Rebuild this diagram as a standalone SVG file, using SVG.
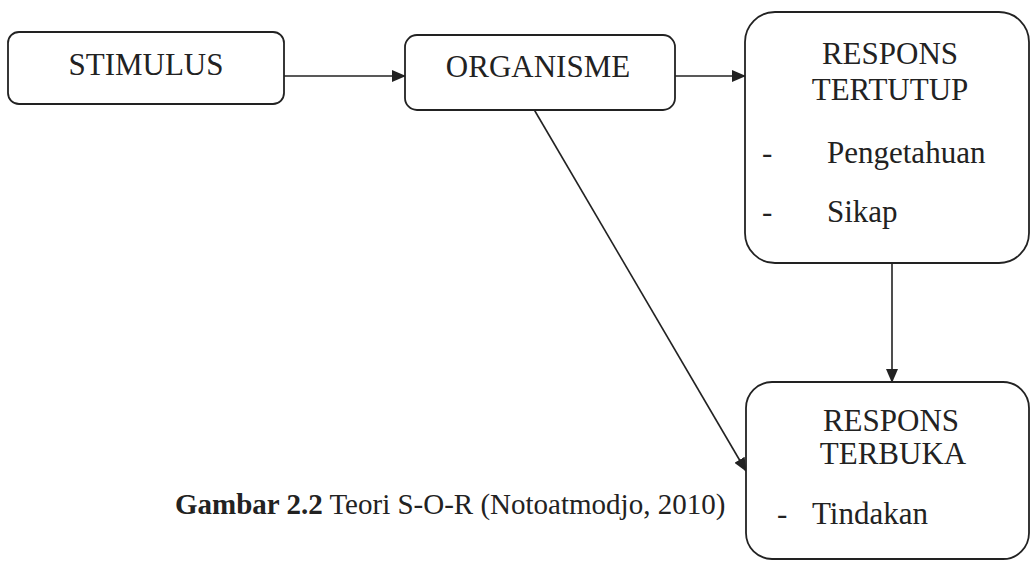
<svg xmlns="http://www.w3.org/2000/svg" width="1031" height="561" viewBox="0 0 1031 561">
<style>
.box{fill:#fff;stroke:#222;stroke-width:1.8}
.t{font-size:31px;fill:#222}
.c{font-size:29px;fill:#222}
.ln{fill:none;stroke:#222;stroke-width:1.6}
</style>
<defs>
<marker id="ah" markerUnits="userSpaceOnUse" markerWidth="14" markerHeight="12" refX="13" refY="6" orient="auto">
<path d="M0,0 L14,6 L0,12 z" fill="#222"/>
</marker>
</defs>
<rect width="1031" height="561" fill="#fff"/>
<g id="connectors">
<line class="ln" x1="284" y1="76" x2="405" y2="76" marker-end="url(#ah)"/>
<line class="ln" x1="675" y1="76" x2="745" y2="76" marker-end="url(#ah)"/>
<line class="ln" x1="892" y1="263" x2="892" y2="382" marker-end="url(#ah)"/>
<line class="ln" x1="532" y1="106" x2="746" y2="471" marker-end="url(#ah)"/>
</g>
<g font-family="Liberation Serif, Times New Roman, DejaVu Serif, serif">
<g id="stimulus">
<rect class="box" x="8" y="32" width="276" height="72" rx="11"/>
<text class="t" x="146" y="75" text-anchor="middle">STIMULUS</text>
</g>
<g id="organisme">
<rect class="box" x="405" y="35" width="270" height="75" rx="12"/>
<text class="t" x="538" y="77" text-anchor="middle">ORGANISME</text>
</g>
<g id="respons-tertutup">
<rect class="box" x="745" y="12" width="284" height="251" rx="30"/>
<text class="t" x="890" y="64" text-anchor="middle">RESPONS</text>
<text class="t" x="890" y="100" text-anchor="middle">TERTUTUP</text>
<text class="t" x="762" y="163">-</text>
<text class="t" x="827" y="163">Pengetahuan</text>
<text class="t" x="762" y="222">-</text>
<text class="t" x="827" y="222">Sikap</text>
</g>
<g id="respons-terbuka">
<rect class="box" x="746" y="382" width="283" height="177" rx="26"/>
<text class="t" x="891" y="431" text-anchor="middle">RESPONS</text>
<text class="t" x="893" y="464" text-anchor="middle">TERBUKA</text>
<text class="t" x="777" y="524">-</text>
<text class="t" x="812" y="524">Tindakan</text>
</g>
<g id="caption">
<text class="c" x="175" y="514"><tspan font-weight="bold">Gambar 2.2</tspan> Teori S-O-R (Notoatmodjo, 2010)</text>
</g>
</g>
</svg>
